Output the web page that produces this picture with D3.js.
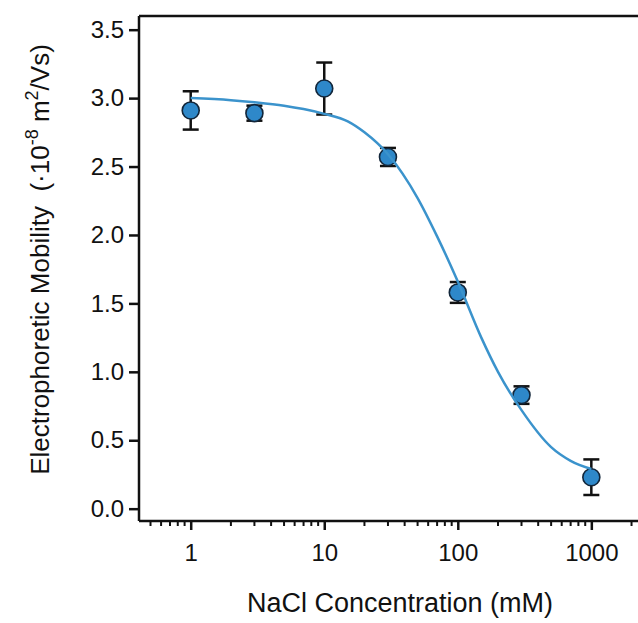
<!DOCTYPE html>
<html>
<head>
<meta charset="utf-8">
<script src="https://cdn.jsdelivr.net/npm/d3@7"></script>
<style>
  body { margin: 0; background: #fff; }
  svg { display: block; font-family: "Liberation Sans", Arial, sans-serif; }
</style>
</head>
<body>
<svg id="chart"></svg>
<script>
// measured points (NaCl concentration in mM)
const concentration = [1, 3, 10, 30, 100, 300, 1000];
const mobility = [2.91, 2.89, 3.07, 2.57, 1.58, 0.83, 0.23];
const mobilityErr = [0.14, 0.055, 0.19, 0.066, 0.076, 0.064, 0.13];

// fitted curve
const fitConc = [1, 2, 3, 5, 7, 10, 15, 20, 30, 50, 70, 100, 150, 200, 300, 500, 700, 1000];
const fitMob = [3.00, 2.985, 2.97, 2.945, 2.92, 2.885, 2.83, 2.75, 2.59, 2.27, 1.99, 1.66, 1.25, 1.0, 0.72, 0.45, 0.35, 0.29];

const yTicks = [0, 0.5, 1.0, 1.5, 2.0, 2.5, 3.0, 3.5];
const xTicks = [1, 10, 100, 1000];

function main() {
    let width = 638, height = 623;
    let svg = d3.select("#chart")
        .attr("width", width)
        .attr("height", height);

    let left = 139, top = 16, right = 650, bottom = 521;

    let x = d3.scaleLog().domain([0.41, 2750]).range([left, right]);
    let y = d3.scaleLinear().domain([-0.09, 3.6]).range([bottom, top]);

    // minor ticks on the log axis
    let minor = [];
    [0.1, 1, 10, 100, 1000].forEach(function(dec) {
        for (let k = 2; k <= 9; k++) {
            let v = dec * k;
            if (v > 0.41 && v < 2750) minor.push(v);
        }
    });

    // frame: top and right sides
    svg.append("path")
        .attr("d", `M${left},${top}H${right}V${bottom}`)
        .attr("fill", "none")
        .attr("stroke", "#111")
        .attr("stroke-width", 2.5);

    // x axis
    let xAxis = svg.append("g")
        .attr("transform", `translate(0,${bottom})`)
        .call(d3.axisBottom(x).tickValues(xTicks).tickFormat(d3.format("d")).tickSize(9).tickPadding(14));
    xAxis.append("g")
        .selectAll("line")
        .data(minor)
        .join("line")
        .attr("x1", d => x(d)).attr("x2", d => x(d))
        .attr("y1", 0).attr("y2", 5)
        .attr("stroke", "#111")
        .attr("stroke-width", 2);

    // y axis
    let yAxis = svg.append("g")
        .attr("transform", `translate(${left},0)`)
        .call(d3.axisLeft(y).tickValues(yTicks).tickFormat(d3.format(".1f")).tickSize(10).tickPadding(5));

    [xAxis, yAxis].forEach(function(g) {
        g.select(".domain").attr("stroke", "#111").attr("stroke-width", 2.5);
        g.selectAll(".tick line").attr("stroke", "#111").attr("stroke-width", 2.5);
        g.selectAll(".tick text")
            .attr("fill", "#111")
            .attr("font-size", "24px")
            .attr("font-family", "Liberation Sans, Arial, sans-serif");
    });
    xAxis.select(".domain").attr("d", `M${left},0H${right}`);
    yAxis.select(".domain").attr("d", `M0,${top}V${bottom}`);

    // axis titles
    svg.append("text")
        .attr("x", 400)
        .attr("y", 612)
        .attr("text-anchor", "middle")
        .attr("font-size", "27px")
        .attr("fill", "#111")
        .text("NaCl Concentration (mM)");

    let yl = svg.append("text")
        .attr("transform", `translate(49,${(top + bottom) / 2 - 9}) rotate(-90)`)
        .attr("text-anchor", "middle")
        .attr("font-size", "26px")
        .attr("fill", "#111")
        .style("white-space", "pre");
    yl.append("tspan").text("Electrophoretic Mobility  (·10");
    yl.append("tspan").attr("dy", -11).attr("font-size", "18px").text("-8");
    yl.append("tspan").attr("dy", 11).text(" m");
    yl.append("tspan").attr("dy", -11).attr("font-size", "18px").text("2");
    yl.append("tspan").attr("dy", 11).text("/Vs)");

    let pts = concentration.map((c, i) => ({ c: c, m: mobility[i], e: mobilityErr[i] }));

    // error bars
    let eb = svg.append("g").attr("stroke", "#111").attr("stroke-width", 2.5);
    eb.selectAll("line.v")
        .data(pts)
        .join("line")
        .attr("x1", d => x(d.c)).attr("x2", d => x(d.c))
        .attr("y1", d => y(d.m - d.e)).attr("y2", d => y(d.m + d.e));
    eb.selectAll("line.top")
        .data(pts)
        .join("line")
        .attr("x1", d => x(d.c) - 8).attr("x2", d => x(d.c) + 8)
        .attr("y1", d => y(d.m + d.e)).attr("y2", d => y(d.m + d.e));
    eb.selectAll("line.bot")
        .data(pts)
        .join("line")
        .attr("x1", d => x(d.c) - 8).attr("x2", d => x(d.c) + 8)
        .attr("y1", d => y(d.m - d.e)).attr("y2", d => y(d.m - d.e));

    // markers
    svg.append("g")
        .selectAll("circle")
        .data(pts)
        .join("circle")
        .attr("cx", d => x(d.c))
        .attr("cy", d => y(d.m))
        .attr("r", 8.5)
        .attr("fill", "#2e88c9")
        .attr("stroke", "#12263a")
        .attr("stroke-width", 1.6);

    // fit line
    let line = d3.line()
        .x(d => x(d[0]))
        .y(d => y(d[1]))
        .curve(d3.curveMonotoneX);
    svg.append("path")
        .datum(fitConc.map((c, i) => [c, fitMob[i]]))
        .attr("d", line)
        .attr("fill", "none")
        .attr("stroke", "#3b93cc")
        .attr("stroke-width", 2.5);
}

main();
</script>
</body>
</html>
